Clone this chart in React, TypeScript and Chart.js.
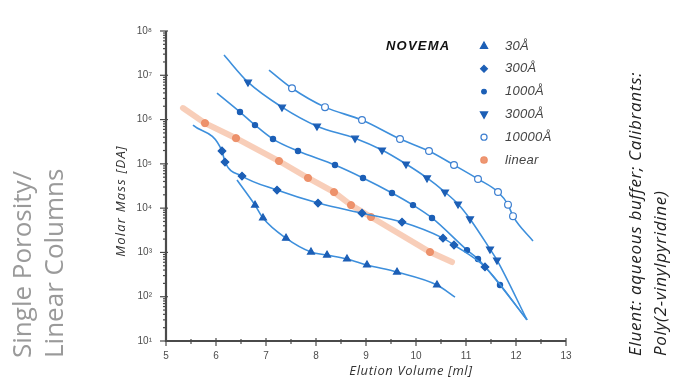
import React, { useEffect, useRef } from 'react';
import { Chart, registerables } from 'chart.js';

Chart.register(...registerables);

// ---- data ----
const SERIES_NAMES = ['30Å', '300Å', '1000Å', '3000Å', '10000Å', 'linear'];
const LEGEND_TITLE = 'NOVEMA';
const X_TICKS = [5, 6, 7, 8, 9, 10, 11, 12, 13];
const Y_DECADES = [1, 2, 3, 4, 5, 6, 7, 8];

const X_30 = [6.42, 6.78, 6.94, 7.4, 7.9, 8.22, 8.62, 9.02, 9.62, 10.42, 10.78];
const Y_30 = [4.3e4, 1.17e4, 6.0e3, 2.1e3, 1.02e3, 870, 710, 520, 360, 184, 98];

const X_300 = [5.54, 6.12, 6.18, 6.52, 7.22, 8.04, 8.92, 9.72, 10.54, 10.76, 11.38, 12.22];
const Y_300 = [7.5e5, 1.95e5, 1.1e5, 5.3e4, 2.56e4, 1.3e4, 7.7e3, 4.85e3, 2.1e3, 1.47e3, 470, 30];

const X_1000 = [6.02, 6.48, 6.78, 7.14, 7.64, 8.38, 8.94, 9.52, 9.94, 10.32, 11.02, 11.24, 11.68, 12.22];
const Y_1000 = [3.96e6, 1.48e6, 7.5e5, 3.63e5, 1.95e5, 9.4e4, 4.8e4, 2.2e4, 1.17e4, 6.0e3, 1.13e3, 710, 184, 30];

const X_3000 = [6.16, 6.64, 7.32, 8.02, 8.78, 9.32, 9.8, 10.22, 10.58, 10.84, 11.08, 11.48, 11.62, 12.22];
const Y_3000 = [2.86e7, 7.0e6, 1.91e6, 7.1e5, 3.8e5, 2.05e5, 9.9e4, 4.8e4, 2.3e4, 1.24e4, 5.7e3, 1.19e3, 670, 30];

const X_10000 = [7.06, 7.52, 8.18, 8.92, 9.68, 10.26, 10.76, 11.24, 11.64, 11.84, 11.94, 12.34];
const Y_10000 = [1.31e7, 5.1e6, 1.91e6, 9.75e5, 3.63e5, 1.95e5, 9.4e4, 4.54e4, 2.31e4, 1.2e4, 6.6e3, 1.81e3];

const X_LIN = [5.34, 5.78, 6.4, 7.26, 7.84, 8.36, 8.7, 9.1, 10.28, 10.72];
const Y_LIN = [1.82e6, 8.3e5, 3.8e5, 1.16e5, 4.8e4, 2.3e4, 1.17e4, 6.3e3, 1.02e3, 607];

const SUP: Record<string, string> = { '0': '⁰', '1': '¹', '2': '²', '3': '³', '4': '⁴', '5': '⁵', '6': '⁶', '7': '⁷', '8': '⁸', '9': '⁹' };

const BLUE_LINE = '#3d8fdc';
const BLUE_MARK = '#1c5fb6';
const ORANGE_LINE = 'rgba(243,165,128,0.55)';
const ORANGE_MARK = 'rgba(236,140,100,0.9)';

const pts = (xs: number[], ys: number[]) => xs.map((x, i) => ({ x, y: ys[i] }));

// first and last point of every curve are line ends without a marker
const endless = (r: number) => (ctx: any) => {
  const n = ctx.dataset.data.length;
  return ctx.dataIndex === 0 || ctx.dataIndex === n - 1 ? 0 : r;
};

const MARKERS = [
  { style: 'triangle', r: 4, rot: 0, fill: BLUE_MARK, stroke: BLUE_MARK },
  { style: 'rectRot', r: 3.8, rot: 0, fill: BLUE_MARK, stroke: BLUE_MARK },
  { style: 'circle', r: 2.6, rot: 0, fill: BLUE_MARK, stroke: BLUE_MARK },
  { style: 'triangle', r: 4, rot: 180, fill: BLUE_MARK, stroke: BLUE_MARK },
  { style: 'circle', r: 3.4, rot: 0, fill: '#ffffff', stroke: '#3d7fd0' },
  { style: 'circle', r: 3.6, rot: 0, fill: ORANGE_MARK, stroke: ORANGE_MARK },
];

function drawMarker(ctx: CanvasRenderingContext2D, m: any, x: number, y: number) {
  ctx.save();
  ctx.fillStyle = m.fill;
  ctx.strokeStyle = m.stroke;
  ctx.lineWidth = 1.2;
  ctx.beginPath();
  const r = m.r * 0.9;
  if (m.style === 'triangle') {
    const s = m.rot === 180 ? -1 : 1;
    ctx.moveTo(x, y - s * r * 1.1);
    ctx.lineTo(x + r, y + s * r * 0.7);
    ctx.lineTo(x - r, y + s * r * 0.7);
    ctx.closePath();
  } else if (m.style === 'rectRot') {
    ctx.moveTo(x, y - r);
    ctx.lineTo(x + r, y);
    ctx.lineTo(x, y + r);
    ctx.lineTo(x - r, y);
    ctx.closePath();
  } else {
    ctx.arc(x, y, r, 0, Math.PI * 2);
  }
  ctx.fill();
  ctx.stroke();
  ctx.restore();
}

const decor = {
  id: 'decor',
  afterDraw(chart: any) {
    const { ctx, chartArea: a, scales } = chart;
    const xs = scales.x;
    const ys = scales.y;
    ctx.save();
    // axes
    ctx.strokeStyle = '#4a4a4a';
    ctx.lineWidth = 2.2;
    ctx.beginPath();
    ctx.moveTo(a.left, a.top);
    ctx.lineTo(a.left, a.bottom);
    ctx.lineTo(a.right, a.bottom);
    ctx.stroke();
    // x ticks
    ctx.lineWidth = 1.2;
    for (let v = X_TICKS[0]; v <= X_TICKS[X_TICKS.length - 1] + 1e-9; v += 0.5) {
      const px = xs.getPixelForValue(v);
      const major = Math.abs(v - Math.round(v)) < 1e-6;
      ctx.beginPath();
      ctx.moveTo(px, a.bottom - (major ? 3 : 2));
      ctx.lineTo(px, a.bottom + (major ? 5 : 3));
      ctx.stroke();
    }
    // y ticks
    for (const d of Y_DECADES) {
      const py = ys.getPixelForValue(Math.pow(10, d));
      ctx.beginPath();
      ctx.moveTo(a.left - 6, py);
      ctx.lineTo(a.left + 2, py);
      ctx.stroke();
      if (d < Y_DECADES[Y_DECADES.length - 1]) {
        for (let m = 2; m <= 9; m++) {
          const q = ys.getPixelForValue(m * Math.pow(10, d));
          ctx.beginPath();
          ctx.moveTo(a.left - 3, q);
          ctx.lineTo(a.left, q);
          ctx.stroke();
        }
      }
    }
    // axis titles
    ctx.fillStyle = '#333';
    ctx.textAlign = 'center';
    ctx.textBaseline = 'middle';
    ctx.font = 'italic 13px "Open Sans"';
    (ctx as any).letterSpacing = '0.6px';
    ctx.fillText('Elution Volume [ml]', 411, 371);
    ctx.save();
    ctx.translate(121, 201);
    ctx.rotate(-Math.PI / 2);
    (ctx as any).letterSpacing = '1.2px';
    ctx.fillText('Molar Mass [DA]', 0, 0);
    ctx.restore();
    // legend
    ctx.textAlign = 'left';
    ctx.fillStyle = '#111';
    ctx.font = 'italic bold 13px "Liberation Sans"';
    (ctx as any).letterSpacing = '1.2px';
    ctx.fillText(LEGEND_TITLE, 386, 46);
    ctx.font = 'italic 13px "Liberation Sans"';
    (ctx as any).letterSpacing = '0.3px';
    SERIES_NAMES.forEach((name, i) => {
      const yy = 46 + i * 22.8;
      drawMarker(ctx, MARKERS[i], 484, yy);
      ctx.fillStyle = '#444';
      ctx.fillText(name, 505, yy);
    });
    ctx.restore();
  },
};

export default function App() {
  const ref = useRef<HTMLCanvasElement | null>(null);
  useEffect(() => {
    if (!ref.current) return;
    const groups = [
      [X_30, Y_30],
      [X_300, Y_300],
      [X_1000, Y_1000],
      [X_3000, Y_3000],
      [X_10000, Y_10000],
    ];
    const datasets: any[] = groups.map(([xs, ys], i) => ({
      label: SERIES_NAMES[i],
      data: pts(xs, ys),
      borderColor: BLUE_LINE,
      borderWidth: 1.6,
      backgroundColor: MARKERS[i].fill,
      pointBackgroundColor: MARKERS[i].fill,
      pointBorderColor: MARKERS[i].stroke,
      pointBorderWidth: 1.2,
      pointStyle: MARKERS[i].style,
      pointRotation: MARKERS[i].rot,
      pointRadius: endless(MARKERS[i].r),
      pointHoverRadius: 0,
      cubicInterpolationMode: 'monotone',
      fill: false,
      order: 1,
    }));
    datasets.push({
      label: SERIES_NAMES[5],
      data: pts(X_LIN, Y_LIN),
      borderColor: ORANGE_LINE,
      borderWidth: 6,
      borderCapStyle: 'round',
      pointBackgroundColor: ORANGE_MARK,
      pointBorderColor: ORANGE_MARK,
      pointBorderWidth: 1,
      pointStyle: 'circle',
      pointRadius: endless(3.6),
      pointHoverRadius: 0,
      tension: 0,
      fill: false,
      order: 10,
    });

    const chart = new Chart(ref.current, {
      type: 'line',
      data: { datasets },
      options: {
        animation: false,
        responsive: false,
        events: [],
        layout: { padding: { left: 0, top: 31, right: 111, bottom: 0 } },
        plugins: { legend: { display: false }, tooltip: { enabled: false } },
        scales: {
          x: {
            type: 'linear',
            min: 5,
            max: 13,
            afterFit: (s: any) => { s.height = 39; },
            afterBuildTicks: (s: any) => { s.ticks = X_TICKS.map((v) => ({ value: v })); },
            grid: { display: false },
            border: { display: false },
            ticks: {
              color: '#4d4d4d',
              font: { size: 10, family: 'Liberation Sans' },
              padding: 1,
              maxRotation: 0,
              callback: (v: any) => String(v),
            },
          },
          y: {
            type: 'logarithmic',
            min: 10,
            max: 1e8,
            afterFit: (s: any) => { s.width = 166; },
            afterBuildTicks: (s: any) => { s.ticks = Y_DECADES.map((d) => ({ value: Math.pow(10, d) })); },
            grid: { display: false },
            border: { display: false },
            ticks: {
              color: '#4d4d4d',
              font: { size: 10, family: 'Liberation Sans' },
              padding: 6,
              callback: (v: any) => {
                const d = Math.round(Math.log10(Number(v)));
                return '10' + String(d).split('').map((c) => SUP[c]).join('');
              },
            },
          },
        },
      },
      plugins: [decor],
    });
    return () => chart.destroy();
  }, []);

  return (
    <div style={{ position: 'fixed', left: 0, top: 0, width: 677, height: 380, background: '#fff', overflow: 'hidden' }}>
      <canvas ref={ref} width={677} height={380} style={{ position: 'absolute', left: 0, top: 0 }} />
      <div
        style={{
          position: 'absolute', left: 5, top: 358, transformOrigin: '0 0', transform: 'rotate(-90deg)',
          font: '26px "Open Sans"', lineHeight: '32px', color: '#9a9a9a', whiteSpace: 'pre',
        }}
      >
        {'Single Porosity/\nLinear Columns'}
      </div>
      <div
        style={{
          position: 'absolute', left: 622, top: 356, transformOrigin: '0 0', transform: 'rotate(-90deg)',
          font: 'italic 17px "Open Sans"', lineHeight: '25px', letterSpacing: '0.7px', color: '#222', whiteSpace: 'pre',
        }}
      >
        {'Eluent: aqueous buffer; Calibrants:\nPoly(2-vinylpyridine)'}
      </div>
    </div>
  );
}
